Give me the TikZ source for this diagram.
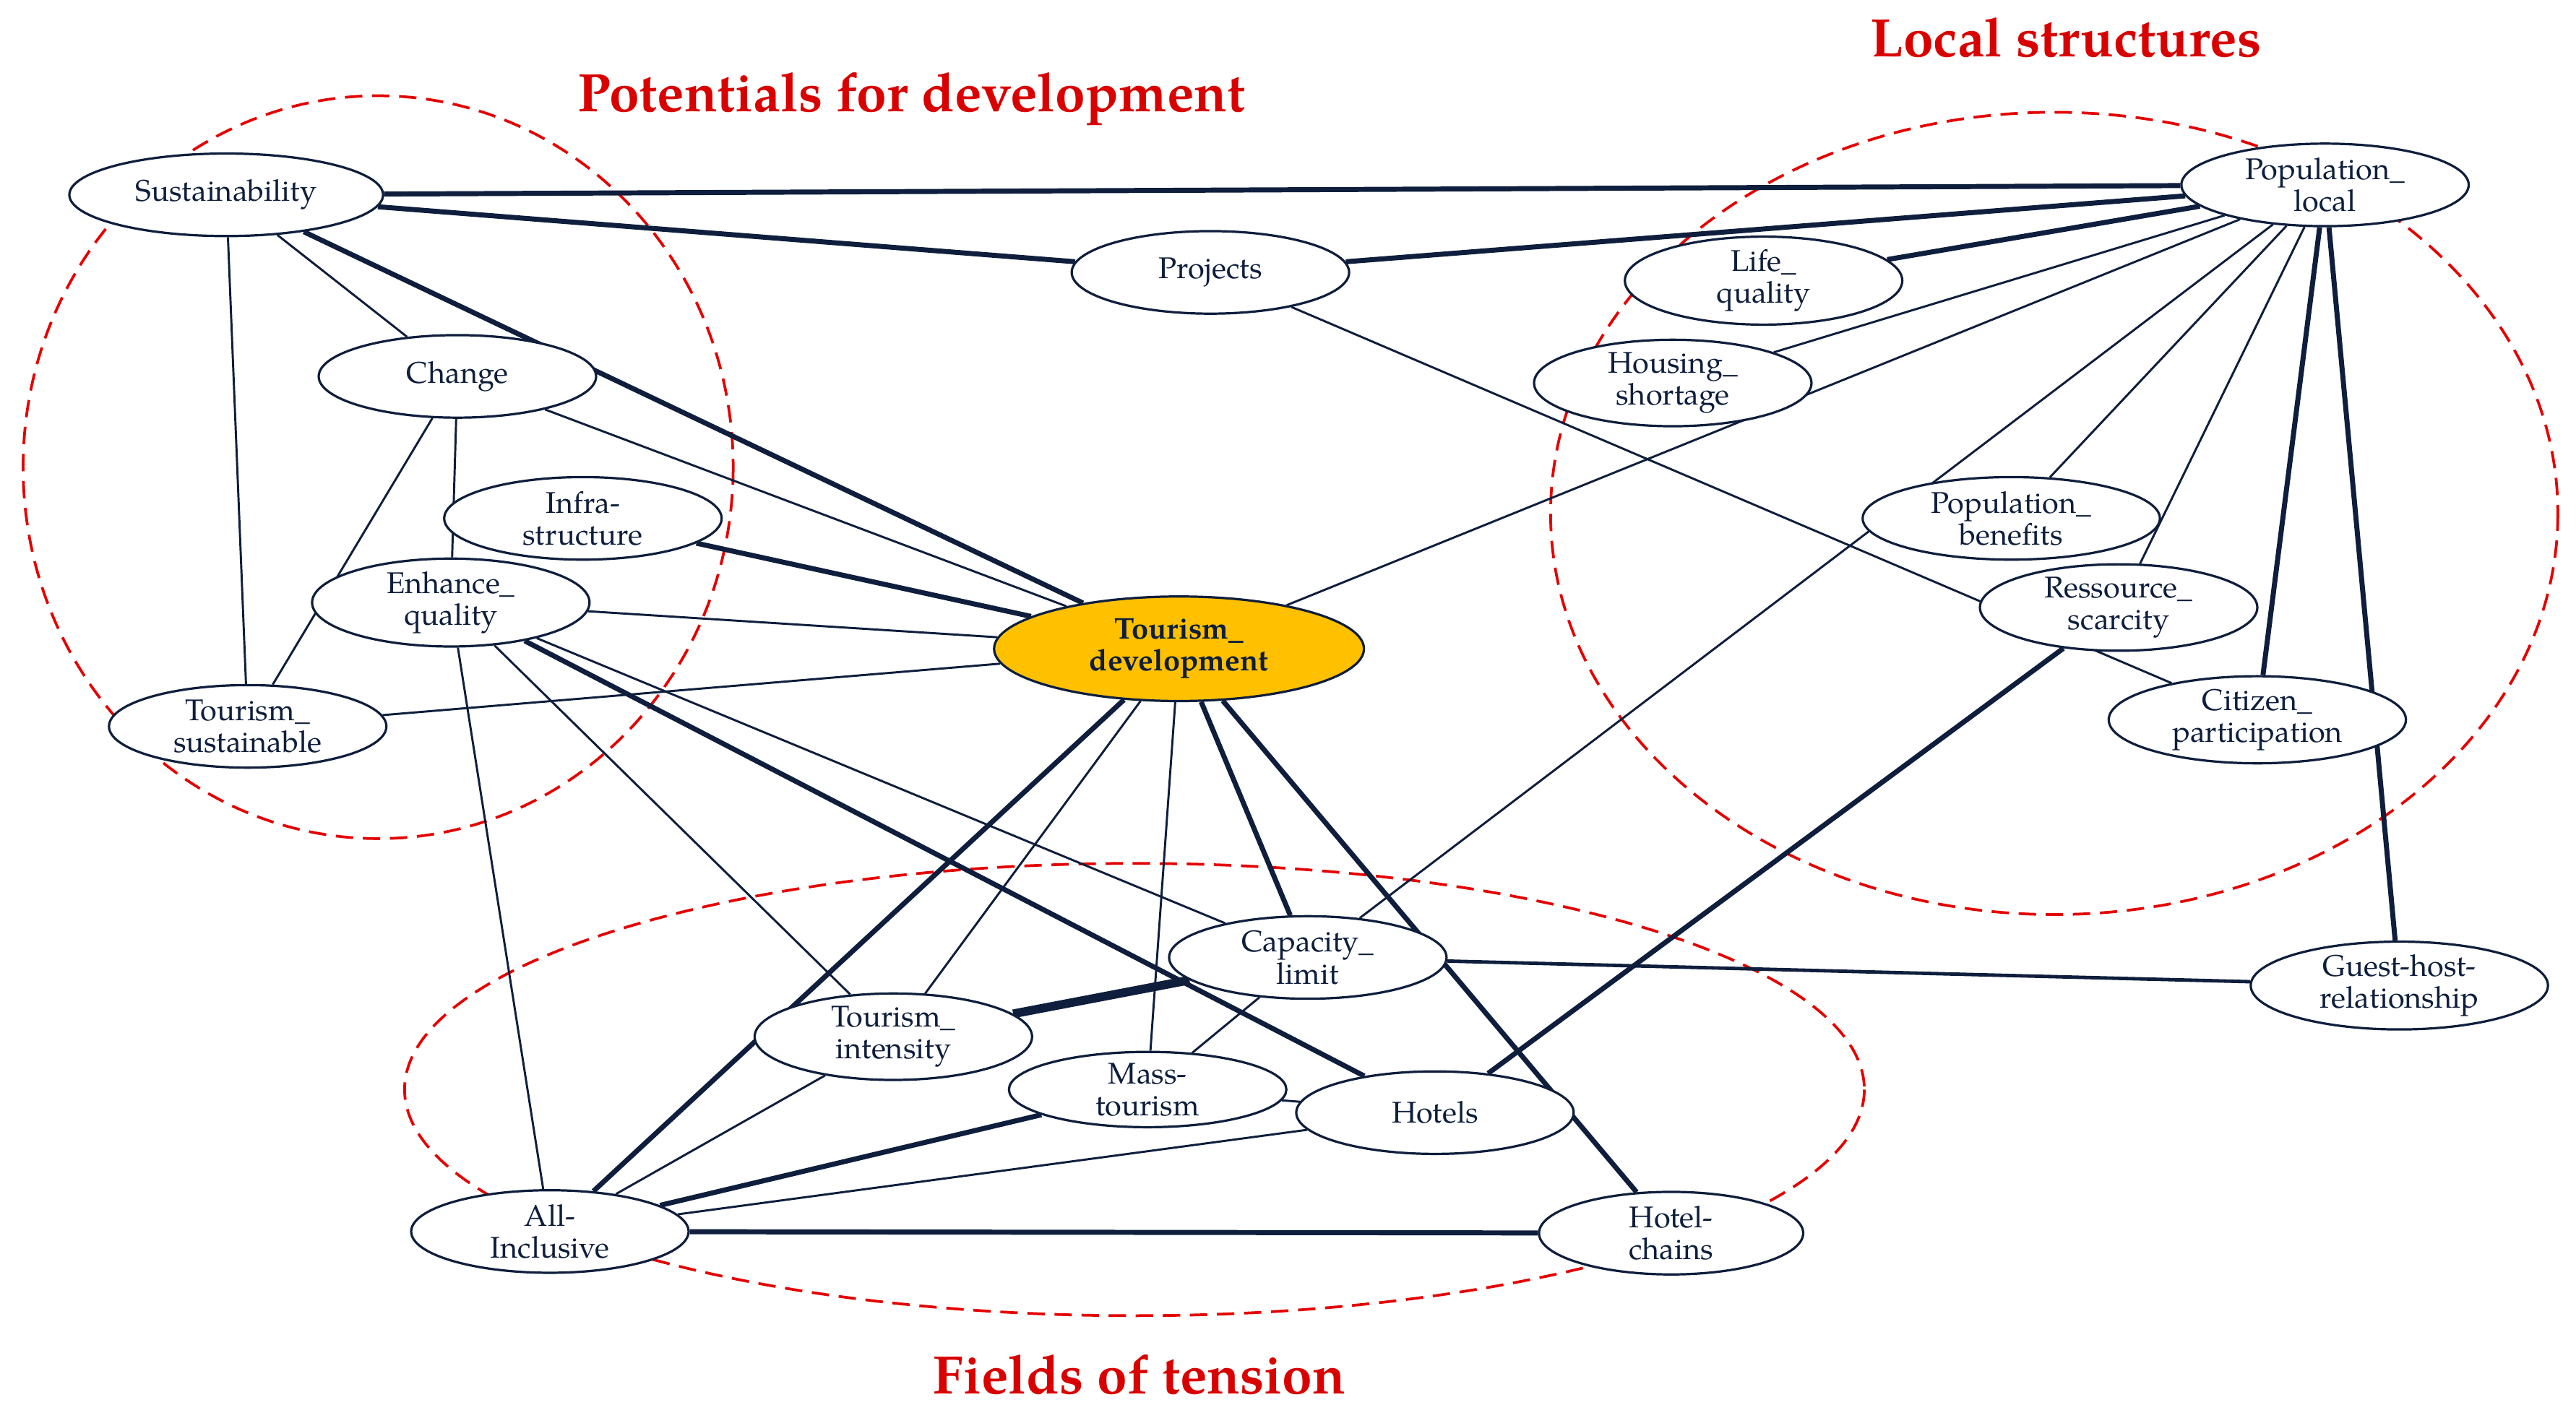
\documentclass[tikz,border=0pt]{standalone}
\usepackage{fontspec}
\setmainfont{TeX Gyre Pagella}
\usetikzlibrary{shapes.geometric,backgrounds}
\begin{document}
\definecolor{navy}{HTML}{0E1E3C}
\begin{tikzpicture}[x=0.3mm,y=-0.3mm,
 n/.style={ellipse,draw=navy,line width=1.2pt,fill=white,minimum width=#1*0.3mm,minimum height=15mm,inner sep=0pt,align=center,font=\fontsize{15.5}{16.5}\selectfont,text=navy},
 n/.default=168,
 tn/.style={navy,line width=1.1pt},
 tk/.style={navy,line width=2.6pt},
 vt/.style={navy,line width=4.5pt},
 zone/.style={red!90!black,line width=1.4pt,dash pattern=on 9pt off 5pt},
 ttl/.style={text=red!85!black,font=\fontsize{28}{30}\selectfont\bfseries}]
\useasboundingbox (0,0) rectangle (1560,851);
\node[ttl] (t1) at (552,60) {Potentials for development};
\node[ttl] (t2) at (1251,23) {Local structures};
\node[ttl] (t3) at (690,833) {Fields of tension};
% nodes
\node[n=190] (sus) at (137,118) {Sustainability};
\node[n] (proj) at (733,165) {Projects};
\node[n] (chg) at (277,228) {Change};
\node[n] (inf) at (353,314) {Infra-\\structure};
\node[n] (enh) at (273,365) {Enhance\_\\quality};
\node[n] (tsu) at (150,440) {Tourism\_\\sustainable};
\node[n=224,minimum height=19mm,fill={rgb,255:red,255;green,192;blue,0},font=\fontsize{15.5}{16.5}\selectfont\bfseries] (td) at (714,393) {Tourism\_\\development};
\node[n=174] (pop) at (1408,112) {Population\_\\local};
\node[n] (life) at (1068,170) {Life\_\\quality};
\node[n] (hous) at (1013,232) {Housing\_\\shortage};
\node[n=180] (pben) at (1218,314) {Population\_\\benefits};
\node[n] (res) at (1283,368) {Ressource\_\\scarcity};
\node[n=180] (cit) at (1367,436) {Citizen\_\\participation};
\node[n] (cap) at (792,580) {Capacity\_\\limit};
\node[n=180] (gh) at (1453,597) {Guest-host-\\relationship};
\node[n] (tin) at (541,628) {Tourism\_\\intensity};
\node[n,minimum height=13mm] (mass) at (695,660) {Mass-\\tourism};
\node[n] (hot) at (869,674) {Hotels};
\node[n] (all) at (333,746) {All-\\Inclusive};
\node[n=160] (hc) at (1012,747) {Hotel-\\chains};
\begin{scope}[on background layer]
\draw[zone] (229,283) ellipse [x radius=215,y radius=225];
\draw[zone] (1244,311) ellipse [x radius=305,y radius=243];
\draw[zone] (687,660) ellipse [x radius=442,y radius=137];
\draw[tk] (sus) -- (pop);
\draw[tk] (sus) -- (proj);
\draw[tk] (proj) -- (pop);
\draw[tk] (sus) -- (td);
\draw[tn] (sus) -- (chg);
\draw[tn] (sus) -- (tsu);
\draw[tn] (chg) -- (tsu);
\draw[tn] (chg) -- (enh);
\draw[tn] (chg) -- (td);
\draw[tk] (inf) -- (td);
\draw[tn] (enh) -- (td);
\draw[tn] (tsu) -- (td);
\draw[tn] (enh) -- (cap);
\draw[tn] (enh) -- (tin);
\draw[tk] (enh) -- (hot);
\draw[tn] (enh) -- (all);
\draw[tk] (pop) -- (life);
\draw[tn] (pop) -- (hous);
\draw[tn] (pop) -- (td);
\draw[tn] (pop) -- (cap);
\draw[tn] (pop) -- (pben);
\draw[tn] (pop) -- (res);
\draw[tk] (pop) -- (cit);
\draw[tk] (pop) -- (gh);
\draw[tn] (proj) -- (cit);
\draw[tk] (res) -- (hot);
\draw[tk] (td) -- (all);
\draw[tn] (td) -- (tin);
\draw[tn] (td) -- (mass);
\draw[tk] (td) -- (cap);
\draw[tk] (td) -- (hc);
\draw[vt] (cap) -- (tin);
\draw[navy,line width=1.8pt] (cap) -- (gh);
\draw[tn] (cap) -- (mass);
\draw[tn] (tin) -- (all);
\draw[tk] (mass) -- (all);
\draw[tn] (mass) -- (hot);
\draw[tn] (hot) -- (all);
\draw[tk] (all) -- (hc);
\end{scope}
\end{tikzpicture}
\end{document}
